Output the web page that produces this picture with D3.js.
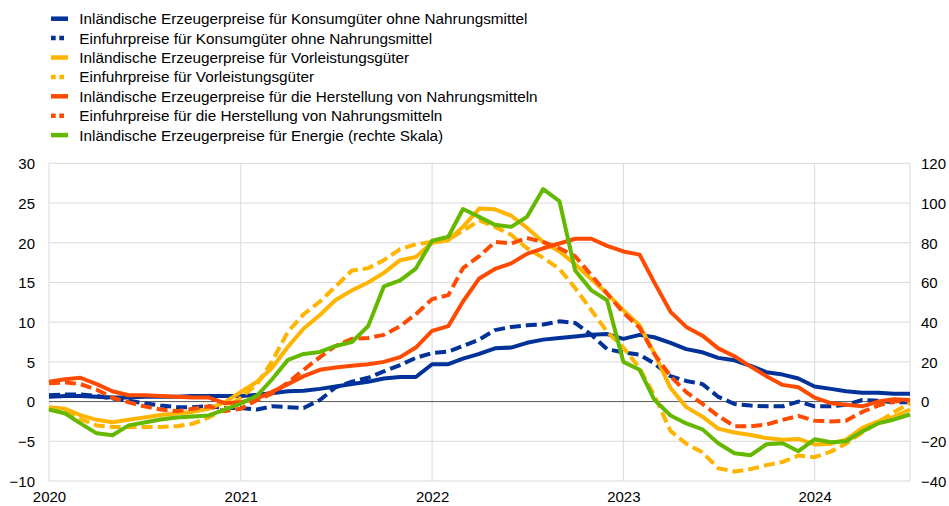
<!DOCTYPE html>
<html>
<head>
<meta charset="utf-8">
<script src="https://cdn.jsdelivr.net/npm/d3@7"></script>
<style>
  html, body { margin: 0; padding: 0; background: #fff; }
  svg { display: block; font-family: "Liberation Sans", Arial, sans-serif; }
</style>
</head>
<body>
<svg id="chart" width="949" height="506"></svg>
<script>
// ---- Data: monthly, Jan 2020 – Jul 2024 (% change y/y) ----
const startMonth = new Date(2020, 0, 1);
const endMonth = new Date(2024, 6, 1);
const yearTicks = ["2020", "2021", "2022", "2023", "2024"];
const leftTicks = [-10, -5, 0, 5, 10, 15, 20, 25, 30];
const rightTicks = [-40, -20, 0, 20, 40, 60, 80, 100, 120];

const domConsumer = [
  0.6, 0.7, 0.7, 0.6, 0.5, 0.5, 0.6, 0.6, 0.6, 0.7, 0.7, 0.7,
  0.7, 0.85, 1.05, 1.3, 1.35, 1.6, 1.9, 2.2, 2.5, 2.9, 3.1, 3.1,
  4.7, 4.7, 5.4, 6.0, 6.7, 6.8, 7.4, 7.8, 8.0, 8.2, 8.4, 8.5,
  7.9, 8.4, 8.1, 7.4, 6.6, 6.2, 5.5, 5.2, 4.5, 3.7, 3.4, 2.9,
  1.9, 1.6, 1.3, 1.1, 1.1, 1.0, 1.0
];
const impConsumer = [
  0.8, 0.9, 0.9, 0.7, 0.4, 0.1, -0.2, -0.5, -0.7, -0.7, -0.6, -0.8,
  -0.8, -1.0, -0.6, -0.7, -0.8, 0.2, 1.8, 2.5, 3.0, 3.8, 4.6, 5.5,
  6.1, 6.3, 7.0, 7.8, 9.0, 9.4, 9.6, 9.7, 10.1, 9.9, 8.4, 6.6,
  6.2, 5.9, 4.8, 3.2, 2.6, 2.2, 0.6, -0.3, -0.5, -0.6, -0.6, 0.0,
  -0.6, -0.6, -0.4, 0.2, 0.1, -0.1, -0.1
];
const domIntermediate = [
  -0.7, -0.9, -1.7, -2.3, -2.6, -2.3, -2.0, -1.7, -1.5, -1.3, -0.9, -0.1,
  1.2, 2.5, 4.2, 6.9, 9.2, 10.9, 12.8, 14.0, 15.0, 16.2, 17.8, 18.2,
  20.0, 20.3, 22.0, 24.3, 24.2, 23.4, 21.9, 20.1, 18.9, 17.3, 15.4, 13.6,
  11.5, 9.6, 6.1, 1.7, -0.7, -1.9, -3.4, -3.9, -4.2, -4.6, -4.8, -4.7,
  -5.4, -5.3, -4.8, -3.3, -2.5, -1.9, -1.0
];
const impIntermediate = [
  -0.8, -1.3, -2.2, -3.0, -3.2, -3.2, -3.2, -3.2, -3.1, -2.8, -2.0, -1.0,
  0.5, 2.2, 5.0, 8.8, 11.0, 12.6, 14.5, 16.5, 16.8, 17.8, 19.2, 19.8,
  20.1, 20.4, 21.5, 22.8, 22.0, 21.0, 19.3, 18.1, 16.7, 14.3, 11.5, 8.8,
  6.8, 4.2, 0.8, -3.7, -5.3, -6.4, -8.4, -8.8, -8.5, -8.0, -7.6, -6.8,
  -7.0, -6.3, -5.3, -3.9, -2.6, -1.3, -0.2
];
const domFood = [
  2.5, 2.8, 3.0, 2.2, 1.3, 0.8, 0.8, 0.7, 0.6, 0.5, 0.5, -0.2,
  -0.1, 0.4, 1.2, 2.2, 3.2, 4.0, 4.3, 4.5, 4.7, 5.0, 5.6, 6.8,
  8.9, 9.5, 12.6, 15.5, 16.7, 17.4, 18.6, 19.3, 19.9, 20.5, 20.5, 19.6,
  18.9, 18.5, 15.0, 11.3, 9.4, 8.3, 6.7, 5.7, 4.4, 3.2, 2.1, 1.8,
  0.5, -0.2, -0.4, -0.6, 0.0, 0.3, 0.2
];
const impFood = [
  2.3, 2.4, 2.2, 1.5, 0.5, -0.1, -0.6, -1.0, -1.2, -0.9, -0.6, -1.2,
  -0.9, 0.2, 1.0, 2.4, 4.0, 5.6, 7.0, 7.9, 8.0, 8.4, 9.5, 11.0,
  12.9, 13.4, 16.8, 18.3, 20.1, 19.9, 20.6, 20.1, 19.3, 18.3, 15.9, 13.6,
  11.2, 9.3, 6.0, 3.2, 1.2, -0.3, -1.8, -3.1, -3.1, -2.9, -2.3, -1.8,
  -2.4, -2.5, -2.4, -1.3, -0.5, 0.0, 0.2
];
const domEnergy = [ // right scale
  -4, -6, -11, -16, -17, -12, -10.5, -9, -8, -7.5, -7, -4,
  -1, 3, 11, 21, 24, 25, 28, 30, 38, 58, 61, 67,
  81, 83, 97, 93, 89, 88, 93, 107, 101, 66, 56, 51,
  20, 16, 1, -7, -11, -14, -21, -26, -27, -21.5, -21, -25,
  -19, -20.5, -20, -15, -11, -9, -6.5
];

const seriesNames = [
  "Inländische Erzeugerpreise für Konsumgüter ohne Nahrungsmittel",
  "Einfuhrpreise für Konsumgüter ohne Nahrungsmittel",
  "Inländische Erzeugerpreise für Vorleistungsgüter",
  "Einfuhrpreise für Vorleistungsgüter",
  "Inländische Erzeugerpreise für die Herstellung von Nahrungsmitteln",
  "Einfuhrpreise für die Herstellung von Nahrungsmitteln",
  "Inländische Erzeugerpreise für Energie (rechte Skala)"
];

// ---- Styles ----
const series = [
  { name: seriesNames[0], values: domConsumer, color: "#003299", dashed: false, axis: "L" },
  { name: seriesNames[1], values: impConsumer, color: "#003299", dashed: true, axis: "L" },
  { name: seriesNames[2], values: domIntermediate, color: "#FFB400", dashed: false, axis: "L" },
  { name: seriesNames[3], values: impIntermediate, color: "#FFB400", dashed: true, axis: "L" },
  { name: seriesNames[4], values: domFood, color: "#FF4B00", dashed: false, axis: "L" },
  { name: seriesNames[5], values: impFood, color: "#FF4B00", dashed: true, axis: "L" },
  { name: seriesNames[6], values: domEnergy, color: "#65B800", dashed: false, axis: "R" }
];

const months = d3.timeMonth.range(startMonth, d3.timeMonth.offset(endMonth, 1));

const svg = d3.select("#chart");
const plot = { left: 49, right: 910, top: 163.3, bottom: 481 };

const x = d3.scaleTime().domain([startMonth, endMonth]).range([plot.left, plot.right]);
const yL = d3.scaleLinear().domain([-10, 30]).range([plot.bottom, plot.top]);
const yR = d3.scaleLinear().domain([-40, 120]).range([plot.bottom, plot.top]);

const grid = svg.append("g");
grid.selectAll("line.h").data(leftTicks).enter().append("line")
  .attr("x1", plot.left).attr("x2", plot.right)
  .attr("y1", d => yL(d)).attr("y2", d => yL(d))
  .attr("stroke", "#d9d9d9").attr("stroke-width", 1);
const yearDates = yearTicks.map(y => new Date(+y, 0, 1));
grid.selectAll("line.v").data(yearDates.concat([endMonth])).enter().append("line")
  .attr("x1", d => x(d)).attr("x2", d => x(d))
  .attr("y1", plot.top).attr("y2", plot.bottom)
  .attr("stroke", "#d9d9d9").attr("stroke-width", 1);
grid.append("line")
  .attr("x1", plot.left).attr("x2", plot.right)
  .attr("y1", yL(0)).attr("y2", yL(0))
  .attr("stroke", "#5a5a5a").attr("stroke-width", 1);

const tickFont = 15;
const axL = d3.axisLeft(yL).tickValues(leftTicks).tickSize(0).tickPadding(0);
const gL = svg.append("g").attr("transform", `translate(${35},0)`).call(axL);
const axR = d3.axisRight(yR).tickValues(rightTicks).tickSize(0).tickPadding(0);
const gR = svg.append("g").attr("transform", `translate(${921},0)`).call(axR);
const axB = d3.axisBottom(x).tickValues(yearDates).tickFormat(d3.timeFormat("%Y")).tickSize(0).tickPadding(0);
const gB = svg.append("g").attr("transform", `translate(0,${502})`).call(axB);
[gL, gR, gB].forEach(g => {
  g.select(".domain").remove();
  g.selectAll("text").attr("font-size", tickFont).attr("fill", "#000")
    .attr("font-family", "'Liberation Sans', Arial, sans-serif");
});
gL.selectAll("text").attr("dy", "0.36em");
gR.selectAll("text").attr("dy", "0.36em");
gB.selectAll("text").attr("dy", "0");

const lines = svg.append("g");
series.forEach(s => {
  const ys = s.axis === "L" ? yL : yR;
  const line = d3.line().x((d, i) => x(months[i])).y(d => ys(d));
  lines.append("path")
    .datum(s.values)
    .attr("d", line)
    .attr("fill", "none")
    .attr("stroke", s.color)
    .attr("stroke-width", 4)
    .attr("stroke-linejoin", "round")
    .attr("stroke-dasharray", s.dashed ? "11,5" : null);
});

const legend = svg.append("g");
series.forEach((s, i) => {
  const cy = 18.7 + i * 19.4;
  const g = legend.append("g");
  if (s.dashed) {
    g.append("line").attr("x1", 51).attr("x2", 64).attr("y1", cy).attr("y2", cy)
      .attr("stroke", s.color).attr("stroke-width", 4.5).attr("stroke-dasharray", "4.7,3.6");
  } else {
    g.append("line").attr("x1", 51).attr("x2", 68).attr("y1", cy).attr("y2", cy)
      .attr("stroke", s.color).attr("stroke-width", 4.5);
  }
  g.append("text").attr("x", 79.3).attr("y", cy).attr("dy", "0.36em")
    .attr("font-size", 15.3).attr("fill", "#000").text(s.name);
});
</script>
</body>
</html>
